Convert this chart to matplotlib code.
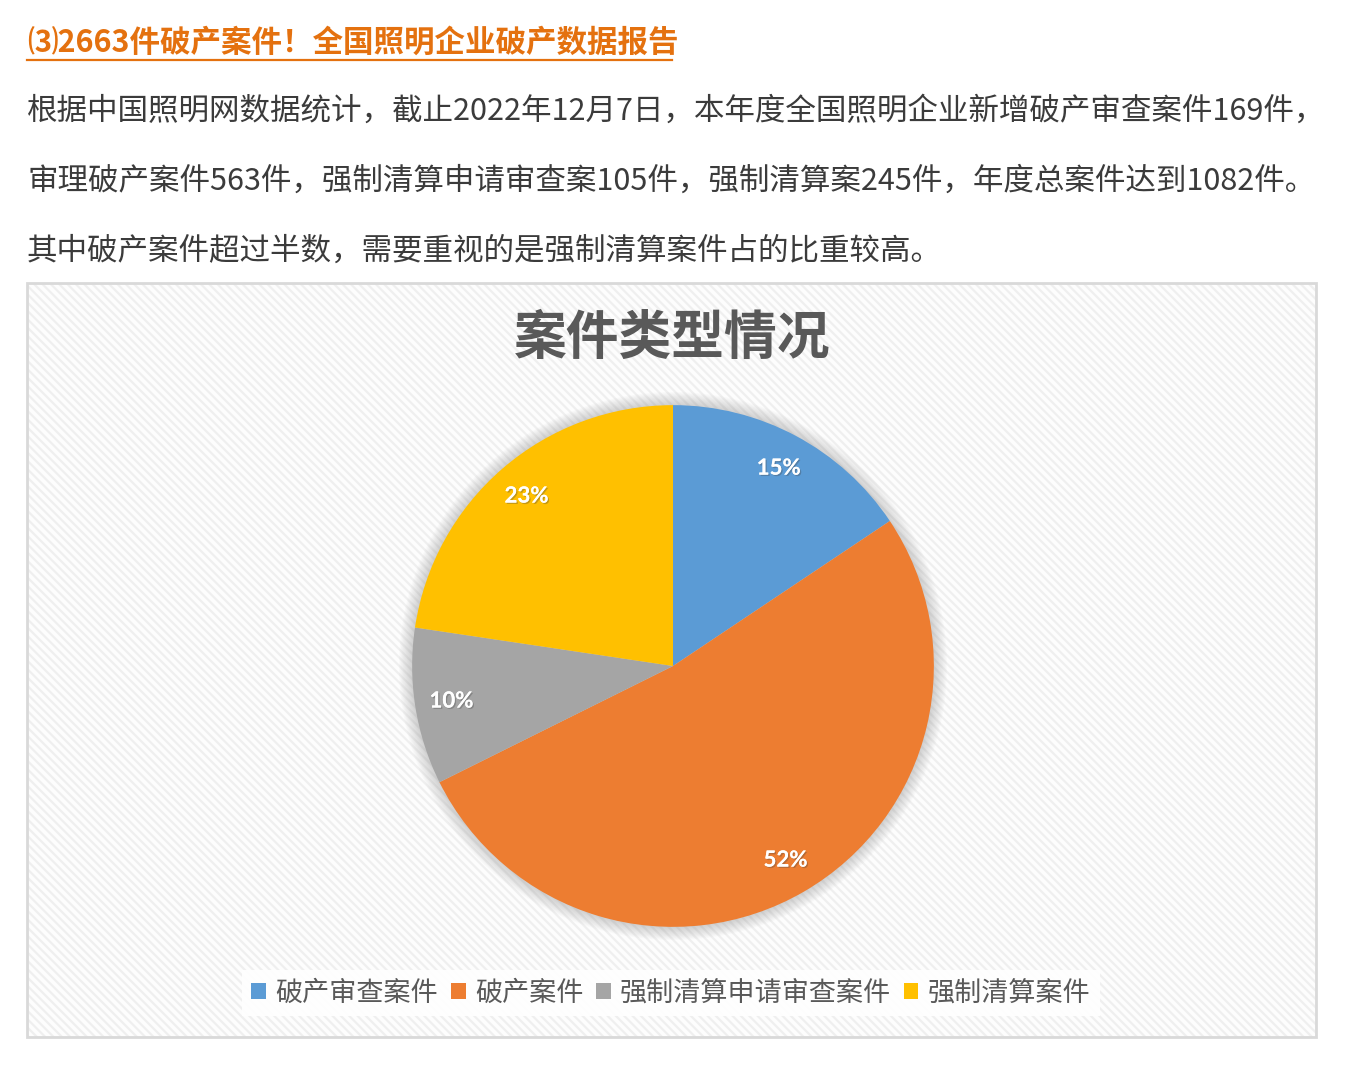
import numpy as np
import matplotlib
matplotlib.use("Agg")
import matplotlib.pyplot as plt
from matplotlib.patches import Rectangle, Patch, Circle
import matplotlib.patheffects as pe

# ── Data ──────────────────────────────────────────────────────────────────────
categories = ["破产审查案件", "破产案件", "强制清算申请审查案件", "强制清算案件"]
counts     = [169, 563, 105, 245]
pct_labels = ["15%", "52%", "10%", "23%"]
colors     = ["#5B9BD5", "#ED7D31", "#A5A5A5", "#FFC000"]

heading = "⑶2663件破产案件！全国照明企业破产数据报告"
paragraph = [
    "根据中国照明网数据统计，截止2022年12月7日，本年度全国照明企业新增破产审查案件169件，",
    "审理破产案件563件，强制清算申请审查案105件，强制清算案245件，年度总案件达到1082件。",
    "其中破产案件超过半数，需要重视的是强制清算案件占的比重较高。",
]
chart_title = "案件类型情况"

# ── Style ─────────────────────────────────────────────────────────────────────
W, H = 1362, 1080
CJK = ["Noto Sans CJK SC", "DejaVu Sans"]
plt.rcParams["font.family"] = CJK
plt.rcParams["hatch.linewidth"] = 1.6

ORANGE_TXT = "#E4710F"
BODY_TXT   = "#3b3b3b"
CHART_TXT  = "#595959"


def fx(px):
    return px / W


def fy(py):
    return 1 - py / H


fig = plt.figure(figsize=(W / 100, H / 100), dpi=100, facecolor="white")

# ── Article text ──────────────────────────────────────────────────────────────
fig.text(fx(27), fy(43), heading, fontsize=22, fontweight="bold",
         color=ORANGE_TXT, ha="left", va="center")
fig.add_artist(plt.Line2D([fx(27), fx(672)], [fy(60), fy(60)],
                          color=ORANGE_TXT, lw=1.6))

for i, line in enumerate(paragraph):
    fig.text(fx(27), fy(111 + 70 * i), line, fontsize=22,
             color=BODY_TXT, ha="left", va="center")

# ── Chart box with diagonal stripes ───────────────────────────────────────────
box_x0, box_y0, box_x1, box_y1 = 27, 283, 1316, 1037
bx, by = fx(box_x0), fy(box_y1)
bw, bh = fx(box_x1 - box_x0), (box_y1 - box_y0) / H
fig.add_artist(Rectangle((bx, by), bw, bh, transform=fig.transFigure,
                         facecolor="#fdfdfd", edgecolor="none", zorder=-3))
fig.add_artist(Rectangle((bx, by), bw, bh, transform=fig.transFigure,
                         facecolor="none", edgecolor="#efefef",
                         hatch="\\\\\\\\", lw=0, zorder=-2))
fig.add_artist(Rectangle((bx, by), bw, bh, transform=fig.transFigure,
                         facecolor="none", edgecolor="#d9d9d9", lw=2,
                         zorder=-1))

fig.text(fx(672), fy(338), chart_title, fontsize=38, fontweight="bold",
         color=CHART_TXT, ha="center", va="center")

# ── Pie ───────────────────────────────────────────────────────────────────────
cx, cy, half = 673, 666, 300
ax = fig.add_axes([fx(cx - half), fy(cy + half), fx(2 * half), 2 * half / H])
ax.patch.set_alpha(0)
ax.set_zorder(1)

# soft glow around the pie
for k in range(10, 0, -1):
    ax.add_patch(Circle((0, 0), 1 + k * 0.005, color="#7f7f7f",
                        alpha=0.035, lw=0, zorder=0))

wedges, _ = ax.pie(counts, colors=colors, startangle=90, counterclock=False,
                   radius=1, wedgeprops=dict(linewidth=0))
for w in wedges:
    w.set_zorder(2)

ax.set_xlim(-1.15, 1.15)
ax.set_ylim(-1.15, 1.15)
ax.set_aspect("equal")
ax.axis("off")

for w, lab in zip(wedges, pct_labels):
    ang = np.deg2rad((w.theta1 + w.theta2) / 2)
    r = 0.86
    ax.text(r * np.cos(ang), r * np.sin(ang), lab, fontsize=16,
            fontweight="bold", color="white", ha="center", va="center",
            family=["Lato", "DejaVu Sans"], zorder=5,
            path_effects=[pe.withSimplePatchShadow(offset=(1, -1),
                                                   shadow_rgbFace="#404040",
                                                   alpha=0.3),
                          pe.Normal()])

# ── Legend ────────────────────────────────────────────────────────────────────
handles = [Patch(facecolor=c, edgecolor="none") for c in colors]
leg = fig.legend(handles, categories, loc="center", ncol=4,
                 bbox_to_anchor=(fx(671), fy(993)),
                 fontsize=19.5, frameon=True, fancybox=False,
                 handlelength=0.55, handleheight=0.55, handletextpad=0.35,
                 columnspacing=0.45, borderpad=0.35, borderaxespad=0)
leg.get_frame().set_facecolor("white")
leg.get_frame().set_edgecolor("none")
leg.get_frame().set_alpha(0.9)
leg.set_zorder(2)
for t in leg.get_texts():
    t.set_color(CHART_TXT)

fig.savefig("out.png", dpi=100, facecolor="white")
